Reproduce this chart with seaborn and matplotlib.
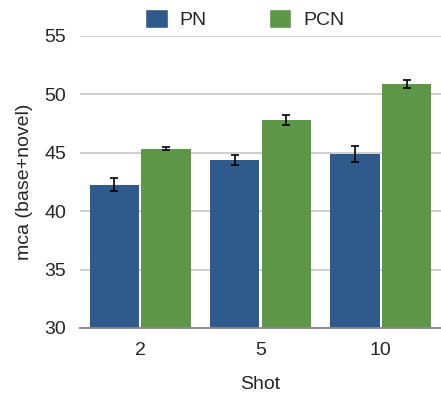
# mca (base+novel) per shot count, PN vs PCN, with error bars
import numpy as np
import pandas as pd
import seaborn as sns
import matplotlib
import matplotlib.pyplot as plt
from matplotlib.patches import Patch

matplotlib.use("Agg")

shots = ["2", "5", "10"]
methods = ["PN", "PCN"]
pn_mca = [42.25, 44.4, 44.9]
pcn_mca = [45.35, 47.8, 50.9]
pn_err = [0.55, 0.45, 0.7]
pcn_err = [0.15, 0.4, 0.35]

colors = {"PN": "#2e5a8c", "PCN": "#5e9748"}

df = pd.DataFrame({
    "Shot": shots * 2,
    "method": ["PN"] * 3 + ["PCN"] * 3,
    "mca": pn_mca + pcn_mca,
    "err": pn_err + pcn_err,
})

sns.set_style("white")
plt.rcParams["font.family"] = ["Liberation Sans", "DejaVu Sans"]

fig = plt.figure(figsize=(4.41, 4.01), dpi=100)
ax = fig.add_axes([80 / 441, 1 - 328 / 401, 361 / 441, 292 / 401])

sns.barplot(data=df, x="Shot", y="mca", hue="method", order=shots,
            hue_order=methods, palette=colors, width=0.86, gap=0.05,
            errorbar=None, saturation=1, linewidth=0, ax=ax, legend=False,
            zorder=2)

# error bars at bar centres
for cont, m in zip(ax.containers, methods):
    sub = df[df["method"] == m].set_index("Shot").loc[shots]
    xs = [b.get_x() + b.get_width() / 2 for b in cont]
    ax.errorbar(xs, sub["mca"], yerr=sub["err"], fmt="none", ecolor="black",
                elinewidth=1.2, capsize=3, capthick=1.2, zorder=3)

ax.set_ylim(30, 55)
ax.set_xlim(-0.5, 2.5)
ax.set_yticks(np.arange(30, 56, 5))
ax.yaxis.grid(True, color="#cccccc", linewidth=1.3, zorder=0)
ax.set_axisbelow(True)
for s in ["top", "right", "left"]:
    ax.spines[s].set_visible(False)
ax.spines["bottom"].set_color("#888888")
ax.spines["bottom"].set_linewidth(1.3)
ax.tick_params(axis="both", length=0, labelsize=14, pad=10)
ax.set_xlabel("Shot", fontsize=14, labelpad=12)
ax.set_ylabel("mca (base+novel)", fontsize=14, labelpad=8)

handles = [Patch(facecolor=colors[m], label=m) for m in methods]
fig.legend(handles=handles, loc="upper center", bbox_to_anchor=(0.555, 1.022),
           ncol=2, frameon=False, fontsize=14, handlelength=1.15,
           handleheight=1.15, columnspacing=3.2, handletextpad=0.6)

fig.savefig("out.png", dpi=100)
